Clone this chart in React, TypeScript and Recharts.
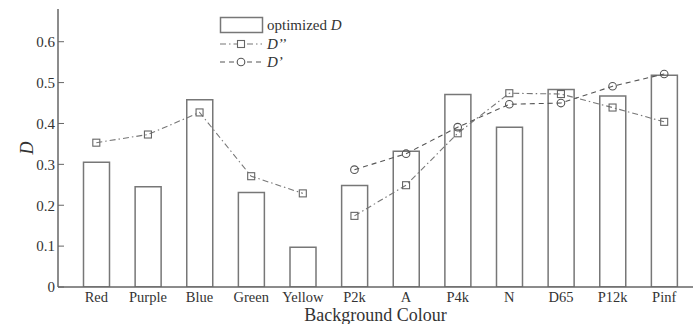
import React from 'react';
import { ComposedChart, Bar, Line, XAxis, YAxis, Legend } from 'recharts';

const categories = ['Red', 'Purple', 'Blue', 'Green', 'Yellow', 'P2k', 'A', 'P4k', 'N', 'D65', 'P12k', 'Pinf'];
const optimizedD = [0.305, 0.245, 0.458, 0.231, 0.097, 0.248, 0.332, 0.471, 0.391, 0.483, 0.467, 0.518];
// D'' is drawn as two separate runs: the colour backgrounds and the white-point backgrounds
const dDoublePrimeColours: (number | null)[] = [0.353, 0.373, 0.427, 0.271, 0.229, null, null, null, null, null, null, null];
const dDoublePrimeWhites: (number | null)[] = [null, null, null, null, null, 0.174, 0.249, 0.376, 0.474, 0.472, 0.439, 0.404];
const dPrime: (number | null)[] = [null, null, null, null, null, 0.287, 0.326, 0.391, 0.447, 0.45, 0.491, 0.521];
const yTicks = [0, 0.1, 0.2, 0.3, 0.4, 0.5, 0.6];

const data = categories.map((name, i) => ({
  name,
  opt: optimizedD[i],
  dppA: dDoublePrimeColours[i],
  dppB: dDoublePrimeWhites[i],
  dp: dPrime[i],
}));

const FONT = '"Liberation Serif", "Times New Roman", Times, serif';
const AXIS = '#666';
const TEXT = '#333';
const DASHDOT = '6 3 1.5 3';
const DASHED = '5 4';

const SquareDot = (props: any) => {
  const { cx, cy, index } = props;
  if (cx == null || cy == null) return <g key={`sq-${index}`} />;
  return (
    <rect key={`sq-${index}`} x={cx - 3.5} y={cy - 3.5} width={7} height={7} fill="none" stroke="#666" strokeWidth={1.1} />
  );
};

const CircleDot = (props: any) => {
  const { cx, cy, index } = props;
  if (cx == null || cy == null) return <g key={`ci-${index}`} />;
  return <circle key={`ci-${index}`} cx={cx} cy={cy} r={3.8} fill="none" stroke="#555" strokeWidth={1.1} />;
};

const renderLegend = () => (
  <svg width={693} height={80} style={{ display: 'block', fontFamily: FONT }}>
    <rect x={220.5} y={17.5} width={42} height={15} fill="none" stroke="#777" strokeWidth={1.5} />
    <text x={267} y={30} fontFamily={FONT} fontSize={15} fill={TEXT}>
      optimized <tspan fontStyle="italic">D</tspan>
    </text>
    <line x1={220} y1={44} x2={262} y2={44} stroke="#777" strokeWidth={1.1} strokeDasharray={DASHDOT} />
    <rect x={237.5} y={40.5} width={7} height={7} fill="#fff" stroke="#666" strokeWidth={1.1} />
    <text x={267} y={49} fontFamily={FONT} fontSize={15} fill={TEXT} fontStyle="italic">
      D’’
    </text>
    <line x1={220} y1={62} x2={262} y2={62} stroke="#555" strokeWidth={1.1} strokeDasharray={DASHED} />
    <circle cx={241} cy={62} r={3.8} fill="#fff" stroke="#555" strokeWidth={1.1} />
    <text x={267} y={67} fontFamily={FONT} fontSize={15} fill={TEXT} fontStyle="italic">
      D’
    </text>
  </svg>
);

const tickStyle = { fontSize: 14.5, fill: TEXT, fontFamily: FONT, style: { fontFamily: FONT } };

export default function App() {
  return (
    <div style={{ position: 'absolute', left: 0, top: 0, width: 693, height: 324, background: '#fff', fontFamily: FONT }}>
      <ComposedChart
        width={693}
        height={324}
        data={data}
        margin={{ top: 9, right: 0, bottom: 0, left: 0 }}
        style={{ fontFamily: FONT }}
      >
        <XAxis
          dataKey="name"
          interval={0}
          padding={{ left: 12.5, right: 3 }}
          height={37}
          tickLine={false}
          tickSize={0}
          tickMargin={5}
          axisLine={{ stroke: AXIS, strokeWidth: 1.5 }}
          tick={tickStyle}
          label={{ value: 'Background Colour', position: 'insideBottom', offset: 3, fontSize: 18, fill: TEXT, fontFamily: FONT }}
        />
        <YAxis
          width={58}
          domain={[0, 0.68]}
          ticks={yTicks}
          allowDataOverflow
          tickFormatter={(v: number) => (v === 0 ? '0' : v.toFixed(1))}
          axisLine={{ stroke: AXIS, strokeWidth: 1.5 }}
          tickLine={{ stroke: AXIS, strokeWidth: 1 }}
          tickSize={-6}
          tickMargin={9}
          tick={{ ...tickStyle, fontSize: 15 }}
          label={{ value: 'D', angle: -90, position: 'center', dx: -2, fontSize: 18, fontStyle: 'italic', fill: TEXT, fontFamily: FONT }}
        />
        <Legend
          layout="vertical"
          align="center"
          verticalAlign="middle"
          wrapperStyle={{ left: 0, top: 0, width: 693, height: 80, pointerEvents: 'none' }}
          content={renderLegend}
        />
        <Bar dataKey="opt" name="optimized D" fill="#fff" stroke="#777" strokeWidth={1.5} barSize={26} isAnimationActive={false} />
        <Line
          dataKey="dppA"
          name="D''"
          type="linear"
          stroke="#777"
          strokeWidth={1.1}
          strokeDasharray={DASHDOT}
          dot={SquareDot}
          activeDot={false}
          connectNulls={false}
          isAnimationActive={false}
        />
        <Line
          dataKey="dppB"
          name="D'' "
          type="linear"
          stroke="#777"
          strokeWidth={1.1}
          strokeDasharray={DASHDOT}
          dot={SquareDot}
          activeDot={false}
          connectNulls={false}
          isAnimationActive={false}
        />
        <Line
          dataKey="dp"
          name="D'"
          type="linear"
          stroke="#555"
          strokeWidth={1.1}
          strokeDasharray={DASHED}
          dot={CircleDot}
          activeDot={false}
          connectNulls={false}
          isAnimationActive={false}
        />
      </ComposedChart>
    </div>
  );
}
